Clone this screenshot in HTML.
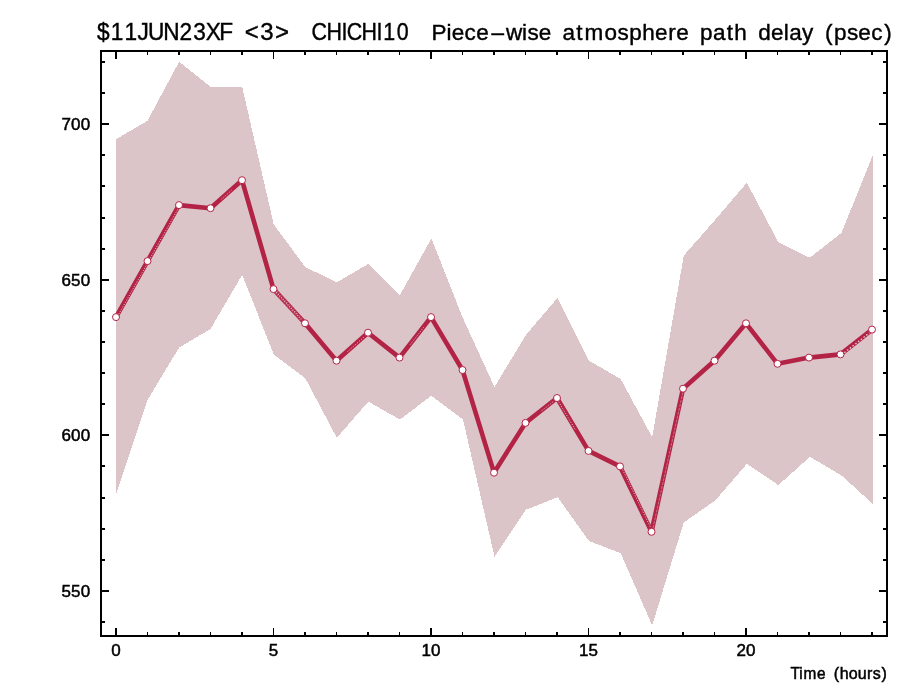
<!DOCTYPE html>
<html><head><meta charset="utf-8"><title>Piece-wise atmosphere path delay</title>
<style>html,body{margin:0;padding:0;background:#fff}svg{display:block}</style></head>
<body>
<svg width="905" height="687" viewBox="0 0 905 687">
<rect width="905" height="687" fill="#fff"/>
<polygon shape-rendering="crispEdges" fill="#DCC5C9" points="116.0,139.2 147.5,120.8 179.1,61.7 210.6,86.9 242.2,86.9 273.7,224.4 305.2,267.0 336.8,282.3 368.3,263.9 399.9,295.0 431.4,238.4 463.0,318.4 494.5,387.1 526.0,334.8 557.6,297.8 589.1,360.7 620.7,379.0 652.2,437.2 683.8,255.5 715.3,219.7 746.8,182.7 778.4,242.4 809.9,257.7 841.5,232.8 873.0,154.7 873.0,504.1 841.5,475.5 809.9,456.8 778.4,485.1 746.8,464.0 715.3,500.4 683.8,522.4 652.2,625.4 620.7,553.2 589.1,541.1 557.6,497.2 526.0,509.7 494.5,556.7 463.0,419.5 431.4,395.8 399.9,419.5 368.3,401.7 336.8,437.8 305.2,378.1 273.7,354.4 242.2,274.8 210.6,328.9 179.1,347.6 147.5,399.9 116.0,494.8"/>
<polyline fill="none" stroke="#B32346" stroke-width="4.6" stroke-linejoin="round" points="116.0,317.1 147.5,261.1 179.0,205.1 210.5,208.2 242.0,180.2 273.5,289.1 305.0,323.3 336.5,360.7 368.0,332.7 399.5,357.6 431.0,317.1 462.5,370.0 494.0,472.7 525.5,422.9 557.0,398.0 588.5,450.9 620.0,466.4 651.5,531.8 683.0,388.7 714.5,360.7 746.0,323.3 777.5,363.8 809.0,357.6 840.5,354.4 872.0,329.6"/>
<line x1="118.8" y1="314.1" x2="146.4" y2="265.1" stroke="#DCC5C9" stroke-width="1.0" stroke-dasharray="1.1 1.5" opacity="1"/>
<line x1="150.3" y1="258.1" x2="177.9" y2="209.1" stroke="#DCC5C9" stroke-width="1.0" stroke-dasharray="1.1 1.5" opacity="1"/>
<line x1="276.2" y1="292.1" x2="302.3" y2="320.4" stroke="#DCC5C9" stroke-width="1.2" stroke-dasharray="1.2 1.2" opacity="1"/>
<line x1="277.2" y1="291.2" x2="303.2" y2="319.5" stroke="#DCC5C9" stroke-width="0.6" stroke-dasharray="1 2" opacity="1"/>
<line x1="275.3" y1="292.9" x2="301.3" y2="321.3" stroke="#DCC5C9" stroke-width="0.6" stroke-dasharray="1 2" opacity="1"/>
<line x1="347.5" y1="351.7" x2="364.1" y2="336.9" stroke="#DCC5C9" stroke-width="1.0" stroke-dasharray="1.1 1.5" opacity="1"/>
<line x1="622.6" y1="469.6" x2="650.7" y2="527.7" stroke="#DCC5C9" stroke-width="1.0" stroke-dasharray="1.1 1.5" opacity="1"/>
<line x1="653.0" y1="528.0" x2="682.8" y2="392.7" stroke="#DCC5C9" stroke-width="0.7" stroke-dasharray="3 1" opacity="0.7"/>
<line x1="844.3" y1="352.7" x2="869.5" y2="332.8" stroke="#DCC5C9" stroke-width="1.4" stroke-dasharray="1.6 1.9" opacity="1"/>
<line x1="541.6" y1="410.8" x2="554.2" y2="400.9" stroke="#DCC5C9" stroke-width="1.0" stroke-dasharray="1.1 1.5" opacity="1"/>
<line x1="558.6" y1="401.7" x2="575.1" y2="429.3" stroke="#DCC5C9" stroke-width="1.0" stroke-dasharray="1.1 1.5" opacity="1"/>
<line x1="221.5" y1="199.1" x2="231.7" y2="190.1" stroke="#DCC5C9" stroke-width="1.0" stroke-dasharray="1.1 1.5" opacity="1"/>
<line x1="410.3" y1="344.5" x2="423.6" y2="327.4" stroke="#DCC5C9" stroke-width="1.0" stroke-dasharray="1.1 1.5" opacity="1"/>
<circle cx="116.0" cy="317.1" r="3.5" fill="#fff" stroke="#B32346" stroke-width="1"/>
<circle cx="147.5" cy="261.1" r="3.5" fill="#fff" stroke="#B32346" stroke-width="1"/>
<circle cx="179.0" cy="205.1" r="3.5" fill="#fff" stroke="#B32346" stroke-width="1"/>
<circle cx="210.5" cy="208.2" r="3.5" fill="#fff" stroke="#B32346" stroke-width="1"/>
<circle cx="242.0" cy="180.2" r="3.5" fill="#fff" stroke="#B32346" stroke-width="1"/>
<circle cx="273.5" cy="289.1" r="3.5" fill="#fff" stroke="#B32346" stroke-width="1"/>
<circle cx="305.0" cy="323.3" r="3.5" fill="#fff" stroke="#B32346" stroke-width="1"/>
<circle cx="336.5" cy="360.7" r="3.5" fill="#fff" stroke="#B32346" stroke-width="1"/>
<circle cx="368.0" cy="332.7" r="3.5" fill="#fff" stroke="#B32346" stroke-width="1"/>
<circle cx="399.5" cy="357.6" r="3.5" fill="#fff" stroke="#B32346" stroke-width="1"/>
<circle cx="431.0" cy="317.1" r="3.5" fill="#fff" stroke="#B32346" stroke-width="1"/>
<circle cx="462.5" cy="370.0" r="3.5" fill="#fff" stroke="#B32346" stroke-width="1"/>
<circle cx="494.0" cy="472.7" r="3.5" fill="#fff" stroke="#B32346" stroke-width="1"/>
<circle cx="525.5" cy="422.9" r="3.5" fill="#fff" stroke="#B32346" stroke-width="1"/>
<circle cx="557.0" cy="398.0" r="3.5" fill="#fff" stroke="#B32346" stroke-width="1"/>
<circle cx="588.5" cy="450.9" r="3.5" fill="#fff" stroke="#B32346" stroke-width="1"/>
<circle cx="620.0" cy="466.4" r="3.5" fill="#fff" stroke="#B32346" stroke-width="1"/>
<circle cx="651.5" cy="531.8" r="3.5" fill="#fff" stroke="#B32346" stroke-width="1"/>
<circle cx="683.0" cy="388.7" r="3.5" fill="#fff" stroke="#B32346" stroke-width="1"/>
<circle cx="714.5" cy="360.7" r="3.5" fill="#fff" stroke="#B32346" stroke-width="1"/>
<circle cx="746.0" cy="323.3" r="3.5" fill="#fff" stroke="#B32346" stroke-width="1"/>
<circle cx="777.5" cy="363.8" r="3.5" fill="#fff" stroke="#B32346" stroke-width="1"/>
<circle cx="809.0" cy="357.6" r="3.5" fill="#fff" stroke="#B32346" stroke-width="1"/>
<circle cx="840.5" cy="354.4" r="3.5" fill="#fff" stroke="#B32346" stroke-width="1"/>
<circle cx="872.0" cy="329.6" r="3.5" fill="#fff" stroke="#B32346" stroke-width="1"/>
<g shape-rendering="crispEdges" stroke="#000" stroke-width="2" fill="none">
<rect x="101" y="51" width="786" height="585"/>
<path stroke-width="1" d="M147.5 51v4M147.5 636v-4M210.5 51v4M210.5 636v-4M273.5 51v8M273.5 636v-8M336.5 51v4M336.5 636v-4M399.5 51v4M399.5 636v-4M462.5 51v4M462.5 636v-4M525.5 51v4M525.5 636v-4M588.5 51v8M588.5 636v-8M651.5 51v4M651.5 636v-4M714.5 51v4M714.5 636v-4M777.5 51v4M777.5 636v-4M840.5 51v4M840.5 636v-4"/>
<path d="M116 51v8M116 636v-8M179 51v4M179 636v-4M242 51v4M242 636v-4M305 51v4M305 636v-4M368 51v4M368 636v-4M431 51v8M431 636v-8M494 51v4M494 636v-4M557 51v4M557 636v-4M620 51v4M620 636v-4M683 51v4M683 636v-4M746 51v8M746 636v-8M809 51v4M809 636v-4M872 51v4M872 636v-4M101 622h4M887 622h-4M101 591h8M887 591h-8M101 560h4M887 560h-4M101 529h4M887 529h-4M101 498h4M887 498h-4M101 466h4M887 466h-4M101 435h8M887 435h-8M101 404h4M887 404h-4M101 373h4M887 373h-4M101 342h4M887 342h-4M101 311h4M887 311h-4M101 280h8M887 280h-8M101 249h4M887 249h-4M101 218h4M887 218h-4M101 186h4M887 186h-4M101 155h4M887 155h-4M101 124h8M887 124h-8M101 93h4M887 93h-4M101 62h4M887 62h-4"/>
</g>
<g font-family="'Liberation Sans', sans-serif" fill="#000" stroke="#000" text-anchor="middle">
<g font-size="17px" stroke-width="0.5">
<text y="656" x="116.0">0</text>
<text y="656" x="273.5">5</text>
<text y="656" x="426.2 435.8">10</text>
<text y="656" x="583.7 593.3">15</text>
<text y="656" x="741.2 750.8">20</text>
<text y="596.6" x="66.2 75.8 85.4">550</text>
<text y="440.6" x="66.2 75.8 85.4">600</text>
<text y="285.6" x="66.2 75.8 85.4">650</text>
<text y="129.6" x="66.2 75.8 85.4">700</text>
<text y="679" x="829.1 835.1 844.4 856.3" transform="scale(0.959,1)" font-size="16px">Time</text>
<text y="679" x="836.3 844.1 853.1 862.1 869.7 876.8 884.1" font-size="16px">(hours)</text>
</g>
<g font-size="24px" stroke-width="0.4">
<text y="40" x="109.5 124.0 138.6 151.7 165.5 181.5 196.8 211.3 225.9 239.7" transform="scale(0.944,1)">$11JUN23XF</text>
<text y="40" x="251.8 266.9 282.0">&lt;3&gt;</text>
<text y="40" x="358.0 374.6 386.1 397.3 413.9 425.4 436.2 451.6" transform="scale(0.892,1)">CHICHI10</text>
<text y="40" x="439.0 448.9 457.9 470.2 482.6 497.7 514.2 524.5 533.1 545.1" font-size="22.5px">Piece–wise</text>
<text y="40" x="568.8 579.5 593.9 610.7 623.1 635.5 648.5 661.2 671.9 682.5" font-size="22.5px">atmosphere</text>
<text y="40" x="706.2 719.3 729.9 740.6" font-size="22.5px">path</text>
<text y="40" x="764.6 777.3 786.2 795.5 807.5" font-size="22.5px">delay</text>
<text y="40" x="828.8 840.2 852.5 864.6 876.9 887.9" font-size="22.5px">(psec)</text>
</g>
</g>
</svg>
</body></html>
